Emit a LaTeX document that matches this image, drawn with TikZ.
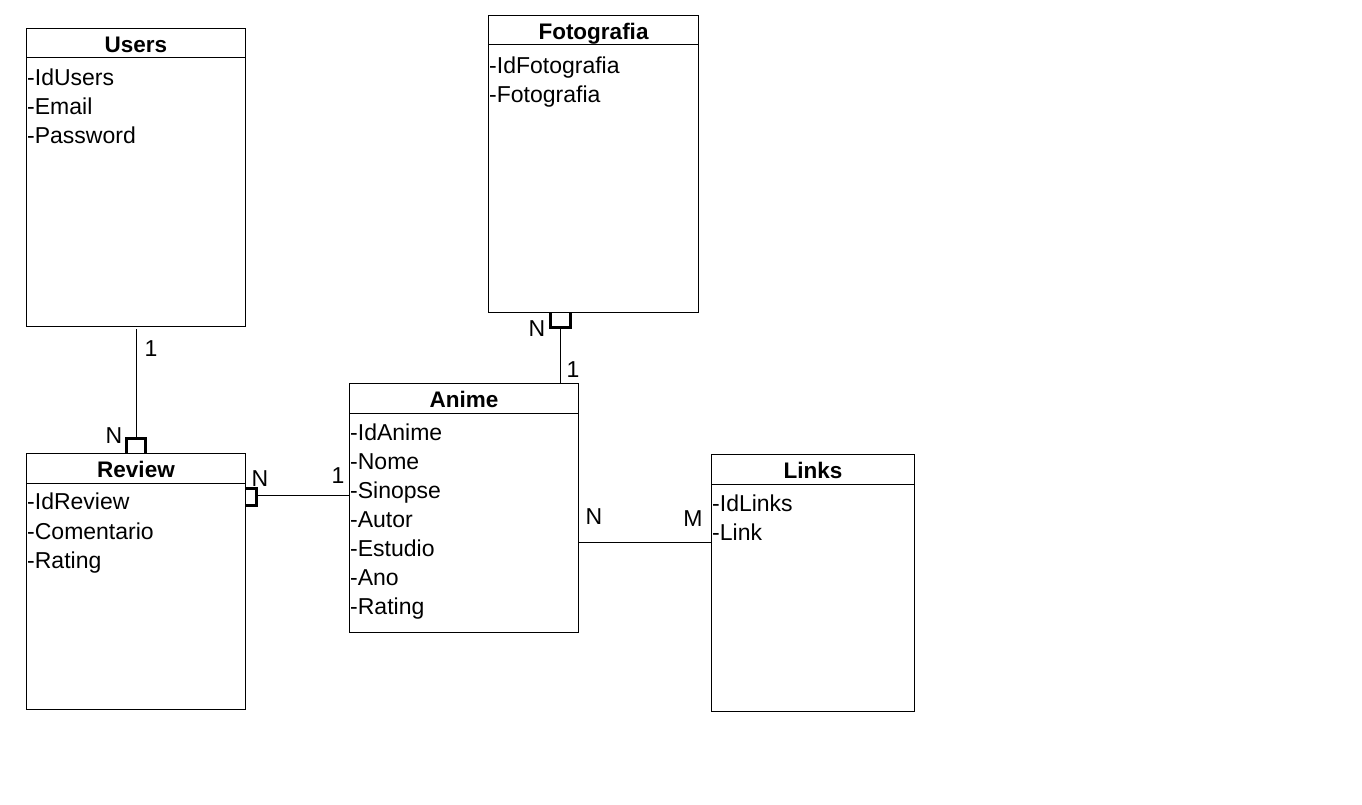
\documentclass[tikz,border=0pt]{standalone}
\usepackage{fontspec}
\setmainfont{Liberation Sans}
\usetikzlibrary{positioning}

\tikzset{
  entity/.style={draw, line width=1pt, anchor=north west, inner sep=0pt},
  title/.style={font=\fontsize{22.5}{26}\selectfont\bfseries, inner sep=0pt, text height=16pt, text depth=5pt},
  attr/.style={font=\fontsize{23}{26}\selectfont, anchor=west, inner sep=0pt, text height=16pt, text depth=5pt},
  card/.style={font=\fontsize{23}{26}\selectfont, inner sep=0pt, text height=16pt, text depth=0pt},
  link/.style={line width=1pt},
  crow/.style={line width=3pt}
}

\begin{document}
\begin{tikzpicture}[x=1pt,y=-1pt]
  \useasboundingbox[fill=white] (0,0) rectangle (1362,805);

  % entidades
  \node[entity, minimum width=219pt, minimum height=298pt] (users) at (26,28) {};
  \node[entity, minimum width=210pt, minimum height=297pt] (foto) at (488,15) {};
  \node[entity, minimum width=229pt, minimum height=249pt] (anime) at (349,383) {};
  \node[entity, minimum width=219pt, minimum height=256pt] (review) at (26,453) {};
  \node[entity, minimum width=203pt, minimum height=257pt] (links) at (711,454) {};

  % cabecalhos
  \foreach \e/\t in {users/Users, foto/Fotografia, anime/Anime, review/Review, links/Links} {
    \draw[link] ([yshift=-30pt]\e.north west) -- ([yshift=-30pt]\e.north east);
    \node[title] (\e-title) at ([yshift=-19pt]\e.north) {\t};
  }

  % atributos
  \foreach \a [count=\i] in {IdUsers, Email, Password}
    \node[attr] (users-\i) at ([xshift=1pt,yshift={-52pt-29.2pt*(\i-1)}]users.north west) {-\a};
  \foreach \a [count=\i] in {IdFotografia, Fotografia}
    \node[attr] (foto-\i) at ([xshift=1pt,yshift={-53pt-29pt*(\i-1)}]foto.north west) {-\a};
  \foreach \a [count=\i] in {IdAnime, Nome, Sinopse, Autor, Estudio, Ano, Rating}
    \node[attr] (anime-\i) at ([xshift=1pt,yshift={-52pt-29pt*(\i-1)}]anime.north west) {-\a};
  \foreach \a [count=\i] in {IdReview, Comentario, Rating}
    \node[attr] (review-\i) at ([xshift=1pt,yshift={-51pt-29.5pt*(\i-1)}]review.north west) {-\a};
  \foreach \a [count=\i] in {IdLinks, Link}
    \node[attr] (links-\i) at ([xshift=1pt,yshift={-52pt-29pt*(\i-1)}]links.north west) {-\a};

  % Users - Review
  \coordinate (ur) at ([yshift=15pt]review.north);
  \draw[crow] ([xshift=-9.5pt]review.north) |- ([xshift=-9.5pt]ur) -- ([xshift=9.5pt]ur) -- ([xshift=9.5pt]review.north);
  \draw[link] ([yshift=-2pt]users.south) -- (ur);
  \node[card] (c1) at (151,348) {1};
  \node[card] (c2) at (114,435) {N};

  % Review - Anime
  \coordinate (ra) at (256,495);
  \draw[crow] (review.east |- 0,488) -| (ra |- 0,488) -- (ra |- 0,505) -- (review.east |- 0,505);
  \draw[link] (ra) -- (anime.west |- ra);
  \node[card] (c3) at (260,478) {N};
  \node[card] (c4) at (338,475) {1};

  % Fotografia - Anime
  \coordinate (fa) at (560,327);
  \draw[crow] (550,0 |- foto.south) |- (fa) -| (570,0 |- foto.south);
  \draw[link] (fa) -- (fa |- anime.north);
  \node[card] (c5) at (537,328) {N};
  \node[card] (c6) at (573,369) {1};

  % Anime - Links
  \coordinate (al) at (578,542);
  \draw[link] (anime.east |- al) -- (links.west |- al);
  \node[card] (c7) at (594,516) {N};
  \node[card] (c8) at (693,518) {M};
\end{tikzpicture}
\end{document}
